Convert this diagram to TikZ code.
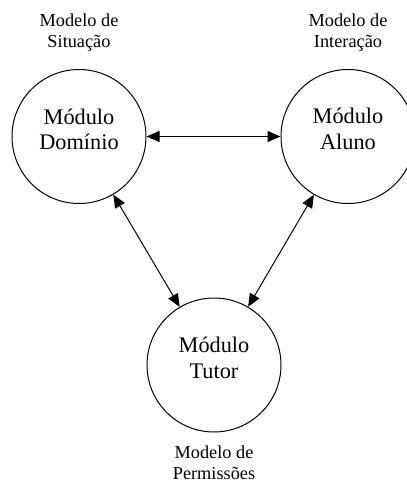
\documentclass[tikz,border=0pt]{standalone}
\usepackage{fontspec}
\setmainfont{Liberation Serif}
\usetikzlibrary{arrows.meta}
\begin{document}
\begin{tikzpicture}[x=1pt,y=-1pt,
  modulo/.style={circle,draw,line width=1pt,minimum size=134pt,inner sep=0pt},
  rotulo/.style={anchor=base,inner sep=0pt,font=\fontsize{22.3}{25}\selectfont},
  modelo/.style={anchor=base,inner sep=0pt,font=\fontsize{18.3}{22}\selectfont},
  liga/.style={line width=1pt,{Triangle[length=13pt,width=11pt]}-{Triangle[length=13pt,width=11pt]}}]
  \useasboundingbox (0,0) rectangle (407,482);

  % the three modules
  \node[modulo] (dom) at (79,136.5) {};
  \node[modulo] (alu) at (348,136.5) {};
  \node[modulo] (tut) at (214,365) {};

  % module names
  \node[rotulo] (domA) at (79,124) {Módulo};
  \node[rotulo] (domB) at (79,149) {Domínio};
  \node[rotulo] (aluA) at (348,123.5) {Módulo};
  \node[rotulo] (aluB) at (348,149) {Aluno};
  \node[rotulo] (tutA) at (214,352) {Módulo};
  \node[rotulo] (tutB) at (214,378) {Tutor};

  % models attached to each module
  \node[modelo] (sitA) at (79,26) {Modelo de};
  \node[modelo] (sitB) at (79,47.5) {Situação};
  \node[modelo] (intA) at (348,26) {Modelo de};
  \node[modelo] (intB) at (348,47.5) {Interação};
  \node[modelo] (perA) at (214,458.5) {Modelo de};
  \node[modelo] (perB) at (214,479) {Permissões};

  % two-way links
  \draw[liga] (dom) -- (alu);
  \draw[liga] (dom) -- (tut);
  \draw[liga] (tut) -- (alu);
\end{tikzpicture}
\end{document}
